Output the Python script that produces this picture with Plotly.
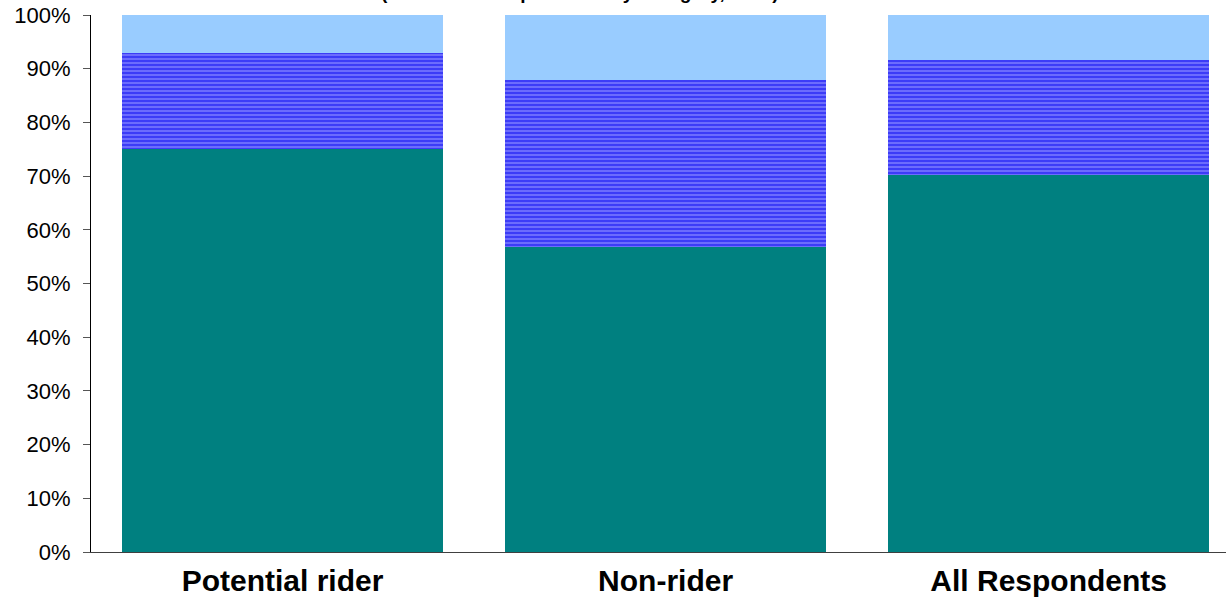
import plotly.graph_objects as go

# Rider groups and the share of respondents (percent) in each response band
categories = ["Potential rider", "Non-rider", "All Respondents"]
band_low = [75.0, 56.8, 70.2]
band_mid = [17.9, 31.1, 21.5]
band_high = [7.1, 12.1, 8.3]
y_ticks = [0, 10, 20, 30, 40, 50, 60, 70, 80, 90, 100]
y_tick_text = [f"{v}%" for v in y_ticks]

fig = go.Figure()

fig.add_trace(go.Bar(
    x=categories, y=band_low, name="Low",
    marker=dict(color="#008080", line=dict(width=0)),
    width=0.838,
))
fig.add_trace(go.Bar(
    x=categories, y=band_mid, name="Middle",
    marker=dict(
        color="#7878ff",
        line=dict(width=0),
        pattern=dict(shape="-", fgcolor="#0000f0", size=4, solidity=0.6,
                     fillmode="overlay"),
    ),
    width=0.838,
))
fig.add_trace(go.Bar(
    x=categories, y=band_high, name="High",
    marker=dict(color="#99ccff", line=dict(width=0)),
    width=0.838,
))

fig.update_layout(
    barmode="stack",
    width=1226, height=600,
    margin=dict(l=91, r=0, t=15, b=48),
    paper_bgcolor="white",
    plot_bgcolor="white",
    showlegend=False,
    font=dict(family="Liberation Sans, Arial, sans-serif", color="black"),
    bargap=0.162,
)

fig.add_annotation(
    text="<b>(Percent of Respondents by Category, 2008)</b>",
    xref="paper", yref="paper", x=0.431, y=1 + 10 / 537,
    xanchor="center", yanchor="bottom", showarrow=False,
    font=dict(size=19, color="black"),
)

fig.update_xaxes(
    type="category",
    range=[-0.5, 2.463],
    showline=True, linecolor="#404040", linewidth=1,
    ticks="", showgrid=False, zeroline=False,
    ticklabelstandoff=2,
    tickfont=dict(size=30, color="black", family="Liberation Sans, Arial, sans-serif"),
    tickprefix="<b>", ticksuffix="</b>",
)
fig.update_yaxes(
    range=[0, 100],
    tickvals=y_ticks, ticktext=y_tick_text,
    showline=True, linecolor="black", linewidth=1,
    ticks="outside", ticklen=7, tickcolor="#555555",
    ticklabelstandoff=8,
    showgrid=False, zeroline=False,
    tickfont=dict(size=22, color="black"),
)

fig.write_html("out.html")
